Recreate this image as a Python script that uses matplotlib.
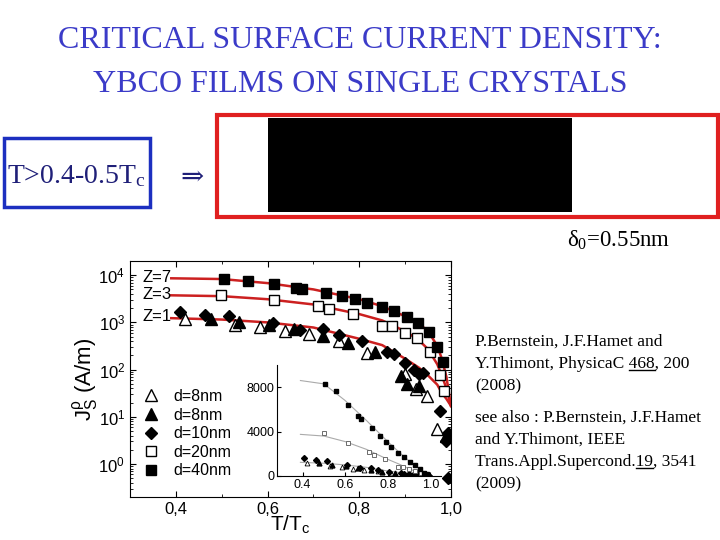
import matplotlib
matplotlib.use("Agg")
import matplotlib.pyplot as plt
from matplotlib.patches import Rectangle
from matplotlib.lines import Line2D
import matplotlib.ticker as mticker

# ---- data ----
# open triangles, d=8nm
t_tri_o = [0.419, 0.528, 0.584, 0.638, 0.69, 0.755, 0.817, 0.90, 0.924, 0.947, 0.97]
j_tri_o = [1210, 890, 810, 670, 570, 410, 230, 81, 39, 27, 5.6]
# filled triangles, d=8nm
t_tri_f = [0.477, 0.538, 0.603, 0.658, 0.72, 0.775, 0.835, 0.89, 0.905, 0.93, 0.99]
j_tri_f = [1170, 1000, 870, 720, 520, 370, 240, 75, 50, 45, 4.0]
# filled diamonds, d=10nm
t_dia = [0.408, 0.464, 0.515, 0.611, 0.67, 0.72, 0.755, 0.806, 0.86, 0.875, 0.90,
         0.92, 0.93, 0.94, 0.976, 0.993, 0.99, 0.993]
j_dia = [1660, 1420, 1380, 960, 680, 720, 530, 400, 240, 210, 140,
         100, 80, 85, 13, 4.6, 3.1, 0.5]
# open squares, d=20nm
t_sq_o = [0.499, 0.613, 0.711, 0.735, 0.787, 0.85, 0.871, 0.90, 0.926, 0.955, 0.975, 0.984]
j_sq_o = [3900, 2960, 2200, 1900, 1500, 850, 820, 590, 460, 240, 78, 36]
# filled squares, d=40nm
t_sq_f = [0.506, 0.558, 0.613, 0.661, 0.675, 0.728, 0.762, 0.79, 0.817, 0.85, 0.875,
          0.904, 0.927, 0.951, 0.97, 0.982]
j_sq_f = [8300, 7700, 6400, 5400, 5100, 4300, 3600, 3100, 2600, 2100, 1750,
          1300, 950, 620, 300, 146]

# model curves Z=7, Z=3, Z=1
t_fit = [0.39, 0.5, 0.6, 0.7, 0.8, 0.85, 0.9, 0.93, 0.95, 0.97, 0.98, 0.99, 1.0]
j_z7 = [8600, 8300, 6800, 5000, 3100, 2200, 1350, 950, 650, 320, 170, 70, 17]
j_z3 = [3750, 3600, 3100, 2400, 1500, 1100, 650, 420, 270, 130, 75, 40, 17]
j_z1 = [1230, 1150, 1000, 780, 450, 330, 170, 110, 75, 48, 32, 24, 17]

xticks = [0.4, 0.6, 0.8, 1.0]
xticklabels = ["0,4", "0,6", "0,8", "1,0"]
inset_xticklabels = ["0.4", "0.6", "0.8", "1.0"]
inset_yticks = [0, 4000, 8000]

plt.rcParams['font.family'] = ['Liberation Sans', 'DejaVu Sans']
plt.rcParams['mathtext.default'] = 'regular'

W, H = 720, 540
fig = plt.figure(figsize=(7.2, 5.4), dpi=100)


def fx(x):
    return x / W


def fy(y):
    return 1 - y / H


serif = ['Liberation Serif', 'DejaVu Serif']
title_col = '#3b3bc8'

# ---- slide text ----
fig.text(0.5, fy(40), "CRITICAL SURFACE CURRENT DENSITY:", ha='center', va='center',
         family=serif, fontsize=23, color=title_col)
fig.text(0.5, fy(85), "YBCO FILMS ON SINGLE CRYSTALS", ha='center', va='center',
         family=serif, fontsize=23, color=title_col)

fig.patches.append(Rectangle((fx(4), fy(207)), fx(146), 69 / H, fill=False,
                             ec='#1c2fc0', lw=2.5, transform=fig.transFigure))
fig.text(fx(7), fy(176), r"T>0.4-0.5T$_\mathregular{c}$", ha='left', va='center',
         family=serif, fontsize=20, color='#1f1f78')
fig.text(fx(180), fy(178), "\u21d2", ha='left', va='center',
         family=serif, fontsize=20, color='#1f1f78')

fig.patches.append(Rectangle((fx(217), fy(217)), fx(501), 102 / H, fill=False,
                             ec='#e02020', lw=3, transform=fig.transFigure))
fig.patches.append(Rectangle((fx(268), fy(212)), fx(304), 94 / H, fc='black',
                             ec='none', transform=fig.transFigure))
fig.text(fx(567), fy(240), r"$\delta_0$=0.55nm", ha='left', va='center',
         family=serif, fontsize=16.5, color='black')

ref_lines = ["P.Bernstein, J.F.Hamet and",
             "Y.Thimont, PhysicaC 468, 200",
             "(2008)",
             "see also : P.Bernstein, J.F.Hamet",
             "and Y.Thimont, IEEE",
             "Trans.Appl.Supercond.19, 3541",
             "(2009)"]
ref_y = [342, 364, 386, 418, 440, 462, 484]
ref_size = 12.5
ref_texts = []
for s, y in zip(ref_lines, ref_y):
    ref_texts.append(fig.text(fx(475), fy(y), s, ha='left', va='center',
                              family=serif, fontsize=ref_size, color='black'))

# ---- main log plot ----
ax = fig.add_axes([fx(130), fy(497), fx(321), 236 / H])
ax.plot(t_fit, j_z7, color='#cc2020', lw=1.8, zorder=2)
ax.plot(t_fit, j_z3, color='#cc2020', lw=1.8, zorder=2)
ax.plot(t_fit, j_z1, color='#cc2020', lw=1.8, zorder=2)

ax.plot(t_tri_o, j_tri_o, '^', ms=8, mfc='white', mec='black', mew=1, ls='none',
        label='d=8nm', zorder=3)
ax.plot(t_tri_f, j_tri_f, '^', ms=8, mfc='black', mec='black', ls='none',
        label='d=8nm', zorder=3)
ax.plot(t_dia, j_dia, 'D', ms=6.5, mfc='black', mec='black', ls='none',
        label='d=10nm', zorder=3)
ax.plot(t_sq_o, j_sq_o, 's', ms=6.5, mfc='white', mec='black', mew=1, ls='none',
        label='d=20nm', zorder=3)
ax.plot(t_sq_f, j_sq_f, 's', ms=7, mfc='black', mec='black', ls='none',
        label='d=40nm', zorder=3)

ax.set_yscale('log')
ax.set_xlim(0.3, 1.0)
ax.set_ylim(0.2, 2e4)
ax.set_xticks(xticks)
ax.set_xticklabels(xticklabels)
ax.xaxis.set_minor_locator(mticker.FixedLocator([0.3, 0.5, 0.7, 0.9]))
ax.set_yticks([1, 10, 100, 1000, 10000])
ax.set_yticklabels([r"$10^{0}$", r"$10^{1}$", r"$10^{2}$", r"$10^{3}$", r"$10^{4}$"])
ax.yaxis.set_minor_locator(mticker.LogLocator(base=10, subs=range(2, 10), numticks=20))
ax.yaxis.set_minor_formatter(mticker.NullFormatter())
ax.tick_params(which='both', direction='in', top=True, right=True, labelsize=12)
ax.tick_params(which='major', length=4)
ax.tick_params(which='minor', length=2)
ax.set_xlabel(r"T/T$_\mathregular{c}$", fontsize=15, labelpad=-2)
ax.set_ylabel(r"$J_S^{\rho}$ (A/m)", fontsize=16, labelpad=-2)

ax.text(0.04, 0.932, "Z=7", transform=ax.transAxes, fontsize=12, va='center')
ax.text(0.04, 0.856, "Z=3", transform=ax.transAxes, fontsize=12, va='center')
ax.text(0.04, 0.763, "Z=1", transform=ax.transAxes, fontsize=12, va='center')

ax.legend(loc='lower left', bbox_to_anchor=(0.04, 0.08), frameon=False, fontsize=11.5,
          handlelength=1.0, handletextpad=0.9, labelspacing=0.22, borderpad=0,
          borderaxespad=0)

# ---- inset, linear scale ----
ins = fig.add_axes([fx(277), fy(476), fx(164), 111 / H])
ins.patch.set_alpha(0)
ins.plot(t_fit, j_z7, color='#aaaaaa', lw=0.8)
ins.plot(t_fit, j_z3, color='#aaaaaa', lw=0.8)
ins.plot(t_fit, j_z1, color='#aaaaaa', lw=0.8)
ins.plot(t_tri_o, j_tri_o, '^', ms=3.5, mfc='white', mec='black', mew=0.6, ls='none')
ins.plot(t_tri_f, j_tri_f, '^', ms=3.5, mfc='black', mec='black', ls='none')
ins.plot(t_dia, j_dia, 'D', ms=3, mfc='black', mec='black', ls='none')
ins.plot(t_sq_o, j_sq_o, 's', ms=3.5, mfc='white', mec='#555555', mew=0.6, ls='none')
ins.plot(t_sq_f, j_sq_f, 's', ms=3.5, mfc='black', mec='black', ls='none')
ins.set_xlim(0.28, 1.05)
ins.set_ylim(0, 10000)
ins.set_xticks(xticks)
ins.set_xticklabels(inset_xticklabels)
ins.set_yticks(inset_yticks)
ins.spines['top'].set_visible(False)
ins.spines['right'].set_visible(False)
ins.tick_params(direction='in', labelsize=9, length=3, pad=2)

# ---- underline volume numbers ----
fig.canvas.draw()
renderer = fig.canvas.get_renderer()


def underline(txt, upto, part):
    x_left = txt.get_window_extent(renderer).x0
    probe = fig.text(0, 0, upto, family=serif, fontsize=ref_size)
    w_upto = probe.get_window_extent(renderer).width
    probe.set_text(part)
    w_part = probe.get_window_extent(renderer).width
    probe.remove()
    bb = txt.get_window_extent(renderer)
    x1 = x_left + w_upto
    x0 = x1 - w_part
    yl = bb.y0 + 2
    fig.lines.append(Line2D([x0 / W, x1 / W], [yl / H, yl / H], color='black', lw=1,
                            transform=fig.transFigure))


underline(ref_texts[1], "Y.Thimont, PhysicaC 468", "468")
underline(ref_texts[5], "Trans.Appl.Supercond.19", "19")

fig.savefig("out.png", dpi=100)
